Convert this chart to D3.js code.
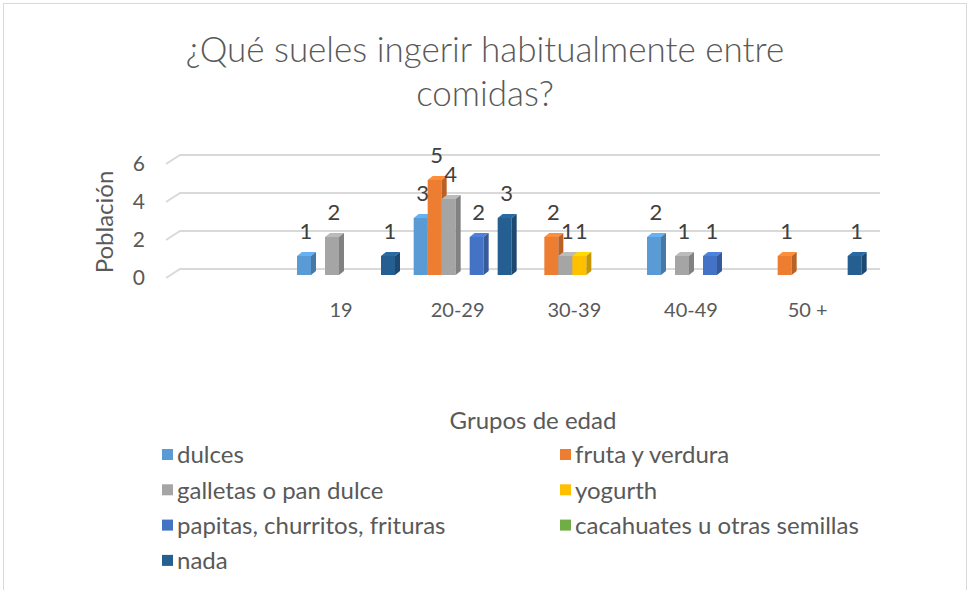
<!DOCTYPE html>
<html>
<head>
<meta charset="utf-8">
<script src="https://cdn.jsdelivr.net/npm/d3@7"></script>
<style>
  body { margin: 0; background: #fff; }
  svg text { font-family: Lato, "Open Sans", sans-serif; fill: #595959; }
</style>
</head>
<body>
<div id="chart"></div>
<script>
// categories (first one is an empty slot, as in the original sheet)
var categories = ["", "19", "20-29", "30-39", "40-49", "50 +"];
var seriesNames = ["dulces", "fruta y verdura", "galletas o pan dulce", "yogurth",
                   "papitas, churritos, frituras", "cacahuates u otras semillas", "nada"];
var seriesColors = ["#5B9BD5", "#ED7D31", "#A5A5A5", "#FFC000", "#4472C4", "#70AD47", "#255E91"];

var dulces      = [null, 1, 3, null, 2, null];
var fruta       = [null, null, 5, 2, null, 1];
var galletas    = [null, 2, 4, 1, 1, null];
var yogurth     = [null, null, null, 1, null, null];
var papitas     = [null, null, 2, null, 1, null];
var cacahuates  = [null, null, null, null, null, null];
var nada        = [null, 1, 3, null, null, 1];

var yTicks = [0, 2, 4, 6];

var seriesValues = [dulces, fruta, galletas, yogurth, papitas, cacahuates, nada];

var width = 969, height = 590;
var depthX = 5, depthY = -4;     // bar depth offset
var wallX = 14, wallY = -9;      // floor depth (front -> back wall)

var svg = d3.select("#chart").append("svg")
  .attr("width", width)
  .attr("height", height);

// chart border
svg.append("rect")
  .attr("x", 3.5).attr("y", 3.5)
  .attr("width", 963).attr("height", 600)
  .attr("fill", "none")
  .attr("stroke", "#d9d9d9");

// title
svg.append("text")
  .attr("x", 485).attr("y", 62)
  .attr("text-anchor", "middle")
  .style("font-size", "35px")
  .style("font-weight", 300)
  .text("¿Qué sueles ingerir habitualmente entre");
svg.append("text")
  .attr("x", 485).attr("y", 106)
  .attr("text-anchor", "middle")
  .style("font-size", "35px")
  .style("font-weight", 300)
  .text("comidas?");

var y = d3.scaleLinear()
  .domain([0, 6])
  .range([275, 161]);

// x0 is the plane the bars stand in
var x0 = d3.scaleBand()
  .domain(categories)
  .range([171, 871]);

var groupWidth = x0.bandwidth() * 0.84;
var x1 = d3.scaleBand()
  .domain(seriesNames)
  .range([0, groupWidth]);
var groupOffset = (x0.bandwidth() - groupWidth) / 2;

// gridlines on the back wall plus the slanted side wall piece
var grid = svg.append("g").attr("class", "grid");
yTicks.forEach(function(t) {
  var fy = y(t) + 3;
  var frontX = 166;
  grid.append("path")
    .attr("d", "M" + frontX + "," + fy + "L" + (frontX + wallX) + "," + (fy + wallY) + "L880," + (fy + wallY))
    .attr("fill", "none")
    .attr("stroke", "#d9d9d9")
    .attr("stroke-width", 2);
});

// y axis tick labels
svg.append("g")
  .selectAll("text")
  .data(yTicks)
  .enter().append("text")
    .attr("x", 145)
    .attr("y", function(d) { return y(d) + 3; })
    .attr("dy", "0.35em")
    .attr("text-anchor", "end")
    .style("font-size", "21px")
    .text(function(d) { return d; });

svg.append("text")
  .attr("transform", "translate(113,222) rotate(-90)")
  .attr("text-anchor", "middle")
  .style("font-size", "24px")
  .text("Población");

// category labels
svg.append("g")
  .selectAll("text")
  .data(categories)
  .enter().append("text")
    .attr("x", function(d) { return x0(d) + x0.bandwidth() / 2 - 5; })
    .attr("y", 317)
    .attr("text-anchor", "middle")
    .style("font-size", "20px")
    .text(function(d) { return d; });

svg.append("text")
  .attr("x", 533).attr("y", 429)
  .attr("text-anchor", "middle")
  .style("font-size", "24px")
  .text("Grupos de edad");

// flatten bars
var bars = [];
categories.forEach(function(c, ci) {
  seriesNames.forEach(function(s, si) {
    var v = seriesValues[si][ci];
    if (v != null) bars.push({cat: c, series: s, value: v, color: seriesColors[si]});
  });
});

var barG = svg.append("g").attr("class", "bars");
bars.forEach(function(d) {
  var bx = x0(d.cat) + groupOffset + x1(d.series);
  var bw = x1.bandwidth();
  var top = y(d.value), base = y(0);
  var g = barG.append("g");
  g.append("rect")
    .attr("x", bx).attr("y", top)
    .attr("width", bw).attr("height", base - top)
    .attr("fill", d.color);
  // top face
  g.append("path")
    .attr("d", "M" + bx + "," + top + "L" + (bx + depthX) + "," + (top + depthY) +
               "L" + (bx + bw + depthX) + "," + (top + depthY) + "L" + (bx + bw) + "," + top + "Z")
    .attr("fill", d3.color(d.color).brighter(0.35));
  // side face
  g.append("path")
    .attr("d", "M" + (bx + bw) + "," + top + "L" + (bx + bw + depthX) + "," + (top + depthY) +
               "L" + (bx + bw + depthX) + "," + (base + depthY) + "L" + (bx + bw) + "," + base + "Z")
    .attr("fill", d3.color(d.color).darker(0.7));
});

// data labels
svg.append("g")
  .selectAll("text")
  .data(bars)
  .enter().append("text")
    .attr("x", function(d) { return x0(d.cat) + groupOffset + x1(d.series) + x1.bandwidth() / 2 + 2; })
    .attr("y", function(d) { return y(d.value) - 17; })
    .attr("text-anchor", "middle")
    .style("font-size", "22px")
    .style("fill", "#404040")
    .text(function(d) { return d.value; });

// legend, two columns
var legend = svg.append("g").attr("class", "legend");
seriesNames.forEach(function(s, i) {
  var lx = i % 2 === 0 ? 162 : 560;
  var ly = 454 + Math.floor(i / 2) * 35.3;
  legend.append("rect")
    .attr("x", lx).attr("y", ly - 5)
    .attr("width", 11).attr("height", 11)
    .attr("fill", seriesColors[i]);
  legend.append("text")
    .attr("x", lx + 15).attr("y", ly + 1)
    .attr("dy", "0.35em")
    .style("font-size", "24px")
    .text(s);
});
</script>
</body>
</html>
